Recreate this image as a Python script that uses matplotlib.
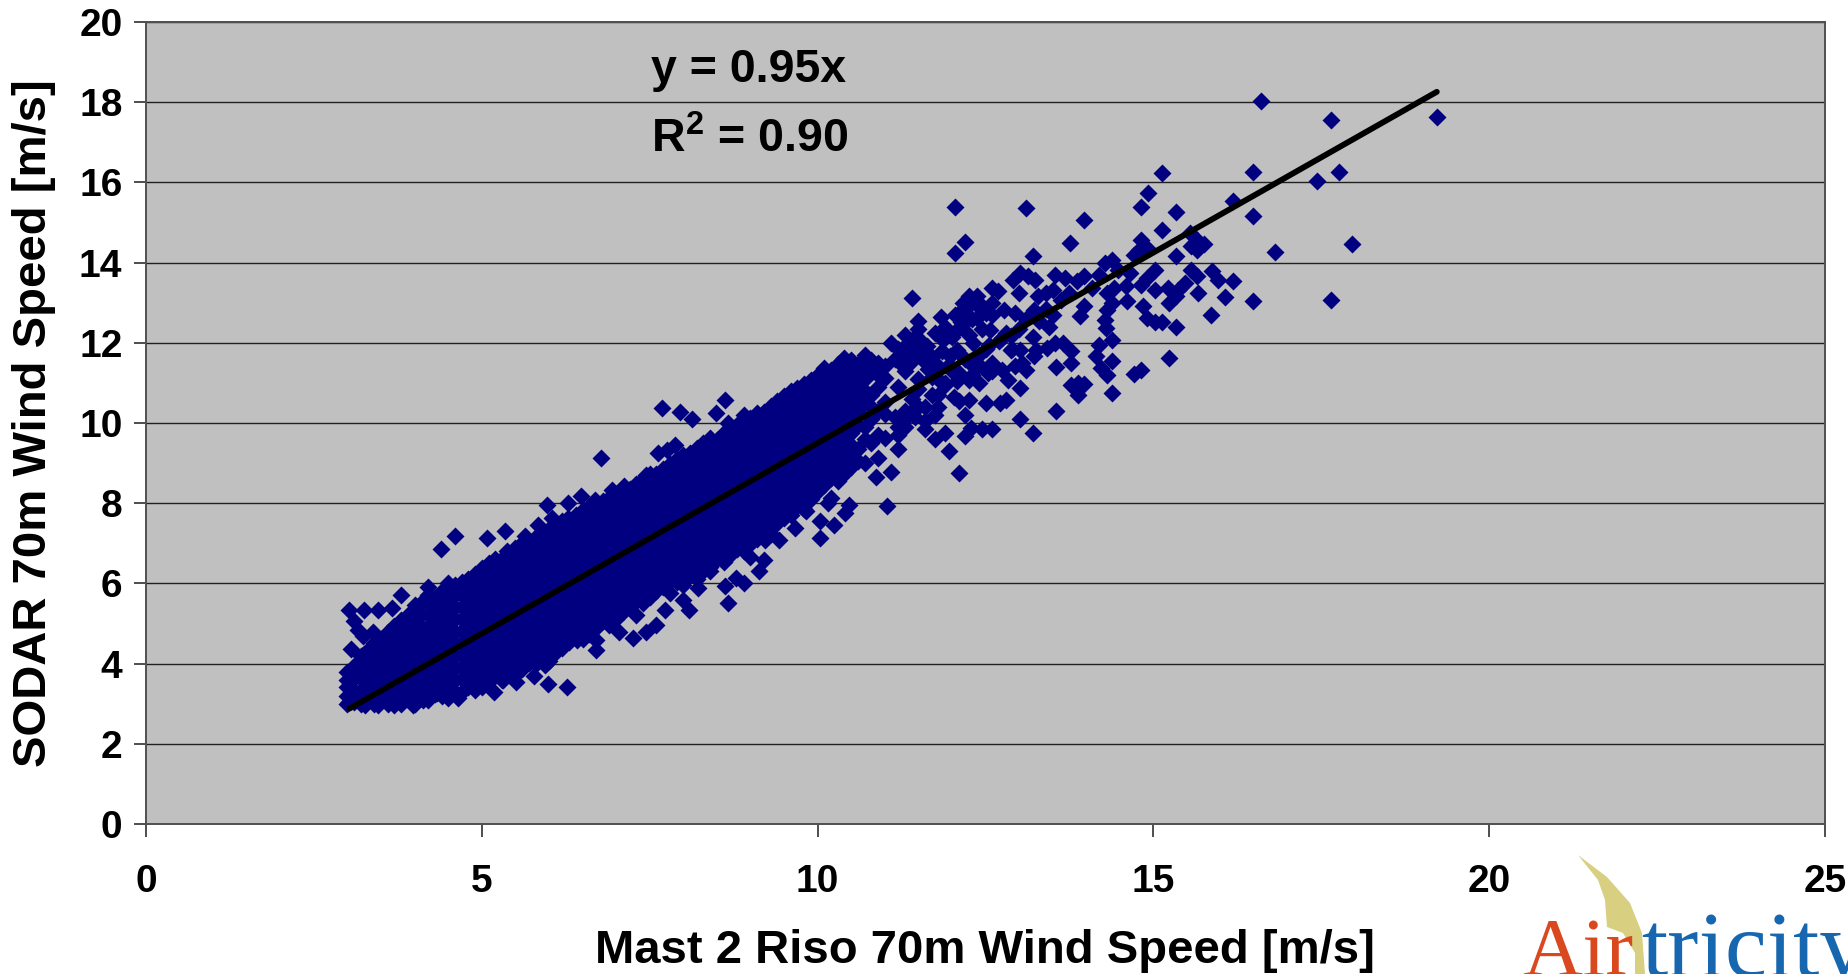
import matplotlib
matplotlib.use('Agg')
import matplotlib.pyplot as plt
from matplotlib.patches import Polygon

plt.rcParams['font.family'] = ['Liberation Sans', 'DejaVu Sans']
plt.rcParams['mathtext.fontset'] = 'custom'
plt.rcParams['mathtext.bf'] = 'Liberation Sans:bold'
plt.rcParams['mathtext.rm'] = 'Liberation Sans:bold'

# dense part of the cloud, read column by column
col_x = [3.0, 3.1, 3.2, 3.3, 3.4, 3.5, 3.6, 3.7, 3.8, 3.9,
         4.0, 4.1, 4.2, 4.3, 4.4, 4.5, 4.6, 4.7, 4.8, 4.9,
         5.0, 5.1, 5.2, 5.3, 5.4, 5.5, 5.6, 5.7, 5.8, 5.9,
         6.0, 6.1, 6.2, 6.3, 6.4, 6.5, 6.6, 6.7, 6.8, 6.9,
         7.0, 7.1, 7.2, 7.3, 7.4, 7.5, 7.6, 7.7, 7.8, 7.9,
         8.0, 8.1, 8.2, 8.3, 8.4, 8.5, 8.6, 8.7, 8.8, 8.9,
         9.0, 9.1, 9.2, 9.3, 9.4, 9.5, 9.6, 9.7, 9.8, 9.9,
         10.0, 10.1, 10.2, 10.3, 10.4, 10.5, 10.6, 10.7, 10.8, 10.9, 11.0]
col_y = [
    [3.0, 3.2, 3.42, 3.6, 3.78], [3.05, 3.35, 3.66, 3.95], [3.0, 3.3, 3.62, 3.9, 4.18],
    [3.12, 3.42, 3.7, 4.02, 4.34], [3.0, 3.3, 3.58, 3.92, 4.2, 4.52], [3.1, 3.42, 3.72, 4.0, 4.32, 4.62],
    [3.0, 3.3, 3.6, 3.92, 4.2, 4.5, 4.78], [3.14, 3.46, 3.76, 4.06, 4.36, 4.66, 4.94],
    [3.0, 3.3, 3.6, 3.9, 4.2, 4.52, 4.8, 5.08], [3.15, 3.44, 3.76, 4.04, 4.36, 4.64, 4.96, 5.2],
    [3.0, 3.3, 3.62, 3.9, 4.22, 4.5, 4.82, 5.1, 5.32], [3.14, 3.46, 3.75, 4.06, 4.35, 4.66, 4.95, 5.24, 5.52],
    [3.08, 3.4, 3.7, 4.0, 4.3, 4.6, 4.9, 5.2, 5.5, 5.72], [3.24, 3.55, 3.85, 4.15, 4.46, 4.75, 5.06, 5.36, 5.64],
    [3.18, 3.5, 3.8, 4.1, 4.4, 4.7, 5.0, 5.3, 5.6, 5.82], [3.14, 3.46, 3.76, 4.06, 4.36, 4.66, 4.96, 5.26, 5.56, 5.86],
    [3.28, 3.6, 3.9, 4.2, 4.5, 4.8, 5.1, 5.4, 5.7, 5.96], [3.3, 3.62, 3.92, 4.22, 4.52, 4.82, 5.12, 5.42, 5.72, 6.04],
    [3.42, 3.76, 4.06, 4.36, 4.66, 4.96, 5.26, 5.56, 5.86, 6.12], [3.34, 3.64, 3.96, 4.26, 4.56, 4.86, 5.16, 5.46, 5.76, 6.06, 6.24],
    [3.42, 3.78, 4.1, 4.4, 4.7, 5.0, 5.3, 5.6, 5.9, 6.2, 6.38], [3.58, 3.9, 4.22, 4.52, 4.82, 5.12, 5.42, 5.72, 6.02, 6.32, 6.5],
    [3.7, 4.04, 4.34, 4.64, 4.94, 5.24, 5.54, 5.84, 6.14, 6.44], [3.6, 3.92, 4.24, 4.56, 4.86, 5.16, 5.46, 5.76, 6.06, 6.36, 6.62],
    [3.78, 4.08, 4.38, 4.68, 4.98, 5.28, 5.58, 5.88, 6.18, 6.48, 6.74], [3.72, 4.0, 4.3, 4.6, 4.9, 5.2, 5.5, 5.8, 6.1, 6.4, 6.7, 6.88],
    [3.86, 4.16, 4.46, 4.76, 5.06, 5.36, 5.66, 5.96, 6.26, 6.56, 6.86, 7.0], [4.02, 4.32, 4.62, 4.92, 5.22, 5.52, 5.82, 6.12, 6.42, 6.72, 7.02],
    [3.98, 4.26, 4.56, 4.86, 5.16, 5.46, 5.76, 6.06, 6.36, 6.66, 6.96, 7.16], [4.14, 4.42, 4.72, 5.02, 5.32, 5.62, 5.92, 6.22, 6.52, 6.82, 7.12, 7.28],
    [4.06, 4.36, 4.66, 4.96, 5.26, 5.56, 5.86, 6.16, 6.46, 6.76, 7.06, 7.36], [4.28, 4.54, 4.84, 5.14, 5.44, 5.74, 6.04, 6.34, 6.64, 6.94, 7.24, 7.46],
    [4.4, 4.7, 5.0, 5.3, 5.6, 5.9, 6.2, 6.5, 6.8, 7.1, 7.4, 7.56], [4.54, 4.86, 5.16, 5.46, 5.76, 6.06, 6.36, 6.66, 6.96, 7.26, 7.56],
    [4.7, 5.0, 5.3, 5.6, 5.9, 6.2, 6.5, 6.8, 7.1, 7.4, 7.7], [4.62, 4.88, 5.18, 5.48, 5.78, 6.08, 6.38, 6.68, 6.98, 7.28, 7.58, 7.84],
    [4.74, 5.04, 5.34, 5.64, 5.94, 6.24, 6.54, 6.84, 7.14, 7.44, 7.74, 7.94], [4.9, 5.2, 5.5, 5.8, 6.1, 6.4, 6.7, 7.0, 7.3, 7.6, 7.9, 8.02],
    [5.06, 5.36, 5.66, 5.96, 6.26, 6.56, 6.86, 7.16, 7.46, 7.76, 8.06], [4.96, 5.22, 5.52, 5.82, 6.12, 6.42, 6.72, 7.02, 7.32, 7.62, 7.92, 8.14],
    [5.12, 5.38, 5.68, 5.98, 6.28, 6.58, 6.88, 7.18, 7.48, 7.78, 8.08, 8.22], [5.28, 5.54, 5.84, 6.14, 6.44, 6.74, 7.04, 7.34, 7.64, 7.94, 8.24],
    [5.42, 5.7, 6.0, 6.3, 6.6, 6.9, 7.2, 7.5, 7.8, 8.1, 8.36], [5.2, 5.56, 5.86, 6.16, 6.46, 6.76, 7.06, 7.36, 7.66, 7.96, 8.26, 8.48],
    [5.5, 5.72, 6.02, 6.32, 6.62, 6.92, 7.22, 7.52, 7.82, 8.12, 8.42, 8.6], [5.66, 5.88, 6.18, 6.48, 6.78, 7.08, 7.38, 7.68, 7.98, 8.28, 8.58, 8.72],
    [5.8, 6.04, 6.34, 6.64, 6.94, 7.24, 7.54, 7.84, 8.14, 8.44, 8.74], [5.9, 6.2, 6.5, 6.8, 7.1, 7.4, 7.7, 8.0, 8.3, 8.6, 8.86],
    [5.76, 6.06, 6.36, 6.66, 6.96, 7.26, 7.56, 7.86, 8.16, 8.46, 8.76, 8.98], [6.04, 6.22, 6.52, 6.82, 7.12, 7.42, 7.72, 8.02, 8.32, 8.62, 8.92, 9.1],
    [5.96, 6.38, 6.68, 6.98, 7.28, 7.58, 7.88, 8.18, 8.48, 8.78, 9.08, 9.2], [6.2, 6.54, 6.84, 7.14, 7.44, 7.74, 8.04, 8.34, 8.64, 8.94, 9.24],
    [6.1, 6.4, 6.7, 7.0, 7.3, 7.6, 7.9, 8.2, 8.5, 8.8, 9.1, 9.38], [6.3, 6.56, 6.86, 7.16, 7.46, 7.76, 8.06, 8.36, 8.66, 8.96, 9.26, 9.5],
    [6.42, 6.72, 7.02, 7.32, 7.62, 7.92, 8.22, 8.52, 8.82, 9.12, 9.42, 9.62], [6.6, 6.88, 7.18, 7.48, 7.78, 8.08, 8.38, 8.68, 8.98, 9.28, 9.58],
    [6.54, 6.76, 7.06, 7.36, 7.66, 7.96, 8.26, 8.56, 8.86, 9.16, 9.46, 9.76], [6.7, 6.96, 7.26, 7.56, 7.86, 8.16, 8.46, 8.76, 9.06, 9.36, 9.66, 9.88],
    [6.86, 7.12, 7.42, 7.72, 8.02, 8.32, 8.62, 8.92, 9.22, 9.52, 9.82, 9.96], [6.8, 7.0, 7.3, 7.6, 7.9, 8.2, 8.5, 8.8, 9.1, 9.4, 9.7, 10.02],
    [6.98, 7.22, 7.52, 7.82, 8.12, 8.42, 8.72, 9.02, 9.32, 9.62, 9.92, 10.12], [7.1, 7.4, 7.7, 8.0, 8.3, 8.6, 8.9, 9.2, 9.5, 9.8, 10.1, 10.26],
    [7.3, 7.58, 7.88, 8.18, 8.48, 8.78, 9.08, 9.38, 9.68, 9.98, 10.28], [7.24, 7.46, 7.76, 8.06, 8.36, 8.66, 8.96, 9.26, 9.56, 9.86, 10.16, 10.42],
    [7.5, 7.64, 7.94, 8.24, 8.54, 8.84, 9.14, 9.44, 9.74, 10.04, 10.34, 10.56], [7.62, 7.82, 8.12, 8.42, 8.72, 9.02, 9.32, 9.62, 9.92, 10.22, 10.52, 10.68],
    [7.7, 8.0, 8.3, 8.6, 8.9, 9.2, 9.5, 9.8, 10.1, 10.4, 10.7, 10.8], [7.92, 8.18, 8.48, 8.78, 9.08, 9.38, 9.68, 9.98, 10.28, 10.58, 10.88],
    [7.86, 8.06, 8.36, 8.66, 8.96, 9.26, 9.56, 9.86, 10.16, 10.46, 10.76, 10.98], [8.1, 8.24, 8.54, 8.84, 9.14, 9.44, 9.74, 10.04, 10.34, 10.64, 10.94, 11.08],
    [8.3, 8.6, 8.9, 9.2, 9.5, 9.8, 10.1, 10.4, 10.7, 11.0, 11.2], [8.46, 8.76, 9.06, 9.36, 9.66, 9.96, 10.26, 10.56, 10.86, 11.16, 11.36],
    [8.12, 8.62, 8.92, 9.22, 9.52, 9.82, 10.12, 10.42, 10.72, 11.02, 11.32], [8.56, 8.8, 9.1, 9.4, 9.7, 10.0, 10.3, 10.6, 10.9, 11.2, 11.48],
    [8.72, 8.98, 9.28, 9.58, 9.88, 10.18, 10.48, 10.78, 11.08, 11.38, 11.62], [8.9, 9.16, 9.46, 9.76, 10.06, 10.36, 10.66, 10.96, 11.26, 11.56],
    [9.06, 9.36, 9.96, 10.26, 10.56, 10.86, 11.16, 11.46], [9.0, 9.6, 9.9, 10.5, 10.8, 11.1, 11.4, 11.7],
    [9.5, 10.1, 10.4, 10.7, 11.3, 11.58], [9.12, 9.7, 10.3, 10.9, 11.2, 11.5],
    [9.62, 10.22, 10.52, 11.12, 11.42], [9.8, 10.4, 11.0, 11.6],
    [9.4, 10.3, 10.9, 11.5],
]

# loose points along the edges of the cloud
edge_x = [7.68, 7.95, 8.13, 8.48, 8.62, 8.9, 8.67, 6.77, 7.88, 7.62, 7.76, 8.22, 7.45, 7.76, 7.96,
          7.11, 6.94, 6.48, 6.68, 6.28, 5.97, 4.6, 4.39, 5.07, 5.34, 5.65, 5.83, 6.05, 6.28, 5.37,
          5.2, 4.97, 4.5, 4.2, 3.79, 3.46, 3.25, 3.03, 4.0, 3.66, 3.09, 3.15, 3.38, 3.23, 3.05,
          3.23, 3.49, 3.03, 3.26, 3.46, 3.69, 3.97, 4.12, 4.34, 4.64, 5.18, 5.31, 5.51, 5.99, 6.27,
          5.77, 5.94, 6.11, 6.42, 6.7, 6.7, 6.71, 7.05, 7.25, 7.45, 7.59, 7.73, 8.09, 8.22, 8.0,
          8.67, 8.62, 8.9, 8.79, 9.13, 9.2, 8.99, 8.4, 8.19, 8.76, 10.03, 10.24, 10.03, 10.41, 10.47,
          11.04, 9.67, 9.42, 9.22, 10.87, 10.16, 9.82, 11.1]
edge_y = [10.37, 10.27, 10.11, 10.25, 10.58, 10.2, 10.0, 9.12, 9.46, 9.25, 9.33, 9.33, 8.71, 8.88, 9.0,
          8.42, 8.34, 8.17, 8.09, 8.0, 7.96, 7.17, 6.86, 7.13, 7.31, 7.17, 7.46, 7.63, 7.63, 6.8,
          6.61, 6.26, 6.02, 5.92, 5.72, 5.34, 5.34, 5.34, 5.47, 5.38, 5.05, 4.84, 4.78, 4.68, 4.36,
          4.22, 4.38, 3.05, 2.97, 2.97, 2.97, 2.97, 3.1, 3.26, 3.14, 3.3, 3.6, 3.53, 3.49, 3.42,
          3.68, 3.97, 4.47, 4.59, 4.33, 4.59, 4.93, 4.8, 4.63, 4.8, 4.97, 5.34, 5.34, 5.88, 5.59,
          5.5, 5.94, 6.0, 6.13, 6.3, 6.59, 6.65, 6.3, 6.42, 6.92, 7.13, 7.46, 7.55, 7.75, 7.96,
          7.94, 7.38, 7.09, 7.09, 8.65, 8.0, 7.8, 8.79]

# scattered points at the high wind end
far_x = [16.6, 17.65, 19.22, 15.13, 16.49, 17.76, 17.44, 14.92, 14.81, 15.34, 16.18, 16.49, 12.04, 13.1, 13.97,
         15.13, 12.19, 12.04, 13.21, 13.76, 16.81, 17.96, 15.34, 16.49, 17.65, 16.07, 16.19, 15.86, 15.66, 15.34,
         15.23, 11.41, 11.83, 11.49, 15.54, 15.65, 15.76, 15.56, 15.65, 15.62, 14.82, 14.9, 14.71, 14.79, 14.39,
         14.28, 15.87, 15.96, 15.56, 15.65, 15.47, 15.36, 15.23, 15.33, 15.22, 15.02, 15.02, 14.9, 14.81, 14.6,
         14.85, 14.9, 15.02, 15.13, 14.59, 14.65, 14.48, 14.19, 13.96, 13.86, 13.54, 13.68, 13.02, 12.91, 13.14,
         13.24, 13.0, 12.68, 12.6, 12.26, 12.37, 12.17, 12.45, 12.37, 12.11, 12.14, 12.57, 12.08, 12.77, 12.94,
         12.6, 13.22, 13.4, 13.28, 13.51, 13.62, 13.74, 14.08, 14.31, 14.42, 14.39, 13.96, 14.31, 13.91, 14.28,
         14.29, 14.39, 13.45, 13.54, 13.42, 13.65, 13.77, 13.78, 13.55, 14.19, 14.14, 14.39, 14.22, 14.31, 14.71,
         14.82, 13.77, 13.88, 13.96, 13.88, 14.39, 13.55, 13.02, 13.21, 12.6, 12.45, 12.28, 12.2, 13.02, 12.8,
         12.72, 12.51, 12.2, 12.26, 12.03, 13.22, 13.25, 13.11, 13.05, 12.83, 12.4, 12.26, 12.08, 13.02, 12.88,
         12.74, 12.88, 12.6, 12.31, 12.08, 11.86, 11.63, 11.46, 11.97, 12.31, 11.8, 11.57, 11.34, 12.74, 12.94,
         12.54, 11.2, 11.3, 11.5, 11.7, 11.9, 11.2, 11.4, 11.6, 11.8, 11.3, 11.5, 11.7, 11.25, 11.45,
         11.1, 11.3, 11.5, 11.2, 11.75, 11.95, 12.1]
far_y = [18.02, 17.56, 17.63, 16.23, 16.25, 16.27, 16.04, 15.74, 15.39, 15.27, 15.53, 15.17, 15.39, 15.37, 15.06,
         14.81, 14.51, 14.23, 14.17, 14.5, 14.27, 14.46, 14.16, 13.04, 13.07, 13.14, 13.54, 12.7, 13.24, 12.39,
         11.61, 13.12, 12.65, 12.55, 14.74, 14.57, 14.47, 14.41, 14.32, 14.49, 14.56, 14.36, 14.2, 14.32, 14.07,
         13.99, 13.78, 13.57, 13.82, 13.66, 13.49, 13.32, 13.0, 13.16, 13.37, 13.31, 13.82, 13.62, 13.45, 13.04,
         12.93, 12.62, 12.53, 12.53, 13.41, 13.74, 13.82, 13.7, 13.66, 13.53, 13.7, 13.62, 13.74, 13.57, 13.66,
         13.57, 13.24, 13.28, 13.37, 13.16, 13.16, 13.0, 12.91, 12.62, 12.74, 12.53, 12.33, 12.33, 12.83, 12.74,
         12.7, 12.83, 13.24, 13.16, 13.32, 13.07, 13.24, 13.37, 13.24, 13.37, 13.0, 12.91, 12.83, 12.68, 12.58,
         12.37, 12.08, 12.39, 12.0, 11.87, 11.99, 11.79, 11.49, 11.39, 11.95, 11.66, 11.54, 11.37, 11.2, 11.23,
         11.31, 10.95, 11.0, 10.98, 10.7, 10.75, 10.29, 10.1, 9.76, 9.85, 9.85, 9.87, 9.67, 10.87, 10.58,
         10.51, 10.51, 10.2, 10.58, 10.66, 11.66, 11.83, 11.33, 11.49, 11.08, 11.0, 11.08, 11.04, 11.83, 11.83,
         12.12, 12.16, 11.49, 12.0, 11.83, 12.08, 11.91, 12.16, 11.66, 11.41, 11.41, 11.58, 11.83, 11.33, 11.41,
         11.25, 9.7, 10.1, 10.4, 10.7, 11.0, 10.9, 10.3, 10.05, 10.4, 11.3, 11.1, 11.4, 11.7, 11.9,
         12.0, 12.2, 12.35, 9.35, 9.6, 9.3, 8.75]

# busier stretch just past the dense part, x 11 to 13
mid_x = [11.15, 11.2, 11.25, 11.3, 11.35, 11.4, 11.45, 11.5, 11.55, 11.6, 11.65, 11.7, 11.75, 11.8, 11.85,
         11.9, 11.95, 12.0, 12.05, 12.1, 12.15, 12.2, 12.25, 12.3, 12.35, 12.4, 12.45, 12.5, 12.55, 12.6,
         11.2, 11.3, 11.4, 11.5, 11.6, 11.7, 11.8, 11.9, 12.0, 12.1, 12.2, 12.3, 12.4, 12.5, 12.6,
         12.7, 12.8, 12.9, 13.0, 13.1, 13.2, 13.3, 13.4, 13.5, 11.15, 11.3, 11.45, 11.6, 11.75, 11.9]
mid_y = [11.6, 11.85, 11.45, 11.75, 12.0, 11.55, 11.85, 12.1, 11.7, 11.95, 11.35, 11.65, 12.25, 11.1, 11.8,
         12.4, 11.45, 12.15, 12.7, 11.25, 12.45, 12.85, 12.2, 12.6, 13.0, 11.7, 12.35, 12.75, 11.95, 13.0,
         9.9, 10.3, 10.6, 10.85, 10.4, 11.15, 10.7, 10.95, 11.3, 10.55, 11.6, 11.2, 11.45, 11.85, 11.3,
         12.05, 12.25, 11.85, 12.35, 12.6, 12.15, 12.55, 12.85, 12.7, 10.15, 9.9, 10.15, 9.85, 10.2, 9.75]

trend_x = [3.03, 19.22]
slope = 0.95
x_ticks = [0, 5, 10, 15, 20, 25]
y_ticks = [0, 2, 4, 6, 8, 10, 12, 14, 16, 18, 20]

W, H = 1848, 974
fig = plt.figure(figsize=(W / 100, H / 100), dpi=100)
ax = fig.add_axes([146 / W, 1 - 824 / H, (1825 - 146) / W, (824 - 22) / H])
ax.set_facecolor('#C0C0C0')
ax.set_xlim(0, 25)
ax.set_ylim(0, 20)
ax.set_xticks(x_ticks)
ax.set_yticks(y_ticks)
ax.set_axisbelow(True)
ax.grid(axis='y', color='#202020', lw=1)
ax.tick_params(axis='both', length=9, width=1.3, color='#404040', labelsize=28, pad=8)
ax.tick_params(axis='x', pad=20)
for lab in ax.get_xticklabels() + ax.get_yticklabels():
    lab.set_fontweight('bold')
for sp in ax.spines.values():
    sp.set_color('#505050')
    sp.set_linewidth(1.4)

pts_x = []
pts_y = []
for x, ys in zip(col_x, col_y):
    pts_x += [x] * len(ys)
    pts_y += ys
pts_x += edge_x + far_x + mid_x
pts_y += edge_y + far_y + mid_y
ax.plot(pts_x, pts_y, ls='none', marker='D', ms=8.8, mfc='#000080', mec='none', zorder=3)
ax.plot(trend_x, [slope * v for v in trend_x], color='black', lw=4.2, solid_capstyle='round', zorder=4)

ax.text(0.3005, 0.9405, 'y = 0.95x', transform=ax.transAxes, fontsize=33.5, fontweight='bold', va='center')
ax.text(0.3005, 0.853, r'$\mathbf{R^2}$ = 0.90', transform=ax.transAxes, fontsize=33.5, fontweight='bold', va='center')

fig.text(985 / W, 1 - 951 / H, 'Mast 2 Riso 70m Wind Speed [m/s]', fontsize=34, fontweight='bold', ha='center', va='center')
fig.text(34 / W, 1 - 423 / H, 'SODAR 70m Wind Speed [m/s]', fontsize=34, fontweight='bold', rotation=90, ha='center', va='center')

# logo in the bottom right corner
sail = [(1578, 855), (1607, 877), (1630, 903), (1642, 933), (1645, 974), (1635, 974), (1635, 953),
        (1623, 933), (1607, 927), (1605, 900), (1598, 880)]
fig.add_artist(Polygon([(x / W, 1 - y / H) for x, y in sail], closed=True, transform=fig.transFigure,
                       fc='#D8D080', ec='none', zorder=1))
fig.text(1522 / W, 1 - 976 / H, 'Air', family='Liberation Serif', fontsize=60, color='#D9481F', va='baseline', zorder=2)
fig.text(1641 / W, 1 - 976 / H, 'tricity', family='Liberation Serif', fontsize=68, color='#1767B0', va='baseline', zorder=2)

fig.savefig('out.png', dpi=100)
